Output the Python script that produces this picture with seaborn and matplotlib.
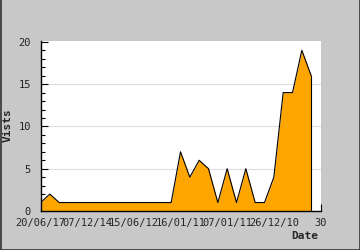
import matplotlib
matplotlib.use("Agg")
import matplotlib.pyplot as plt
import seaborn as sns
import pandas as pd
from matplotlib.ticker import MultipleLocator, FixedLocator, FixedFormatter
from matplotlib.lines import Line2D

visits = [1, 2, 1, 1, 1, 1, 1, 1, 1, 1, 1, 1, 1, 1, 1,
          7, 4, 6, 5, 1, 5, 1, 5, 1, 1, 4, 14, 14, 19, 16]
tick_positions = [0, 5, 10, 15, 20, 25, 30]
tick_labels = ["20/06/17", "07/12/14", "15/06/12", "16/01/11", "07/01/11", "26/12/10", "30"]
y_ticks = [0, 5, 10, 15, 20]

df = pd.DataFrame({"idx": list(range(len(visits))), "visits": visits})

sns.set_style("white")
plt.rcParams['font.family'] = ['DejaVu Sans Mono']

bg = "#c8c8c8"
fig = plt.figure(figsize=(3.6, 2.5), dpi=100, facecolor=bg)
ax = fig.add_axes([40.5/360, 39/250, 280/360, 170/250])
ax.set_facecolor("white")

for y in [5, 10, 15]:
    ax.axhline(y, color="#dddddd", lw=0.8, zorder=0)

ax.fill_between(df["idx"], 0, df["visits"], color="#ffa500", lw=0, zorder=2)
sns.lineplot(data=df, x="idx", y="visits", ax=ax, color="black", lw=0.8, zorder=3)
ax.plot([df["idx"].iloc[-1]] * 2, [0, visits[-1]], color="black", lw=0.8, zorder=3)

ax.set_xlim(0, 30)
ax.set_ylim(0, 20.1)

for s in ["top", "right"]:
    ax.spines[s].set_visible(False)
for s in ["left", "bottom"]:
    ax.spines[s].set_color("black")
    ax.spines[s].set_linewidth(1)
    ax.spines[s].set_zorder(5)

ax.xaxis.set_major_locator(FixedLocator(tick_positions))
ax.xaxis.set_major_formatter(FixedFormatter(tick_labels))
ax.yaxis.set_major_locator(FixedLocator(y_ticks))
ax.yaxis.set_minor_locator(MultipleLocator(1))
ax.tick_params(axis="x", which="major", direction="in", length=5, width=0.8,
               color="black", labelsize=7.5, pad=5, bottom=True)
ax.tick_params(axis="y", which="major", direction="in", length=5, width=0.8,
               color="black", labelsize=7.5, pad=7, left=True)
ax.tick_params(axis="y", which="minor", direction="in", length=3, width=0.8,
               color="black", left=True)
for lab in ax.get_yticklabels():
    lab.set_color("#222222")

ax.set_xlabel("")
ax.set_ylabel("")
fig.text(305/360, 1 - 236/250, "Date", fontsize=8, fontweight="bold",
         ha="center", va="center")
fig.text(8/360, 1 - 125/250, "Vists", fontsize=8, fontweight="bold",
         ha="center", va="center", rotation=90)

edge = "#333333"
fig.lines.append(Line2D([0.5/360, 0.5/360], [0, 1], transform=fig.transFigure, color=edge, lw=1.2))
fig.lines.append(Line2D([359.5/360, 359.5/360], [0, 1], transform=fig.transFigure, color=edge, lw=1.2))
fig.lines.append(Line2D([0, 1], [0.5/250, 0.5/250], transform=fig.transFigure, color=edge, lw=1.2))

fig.savefig("out.png", dpi=100, facecolor=bg)
